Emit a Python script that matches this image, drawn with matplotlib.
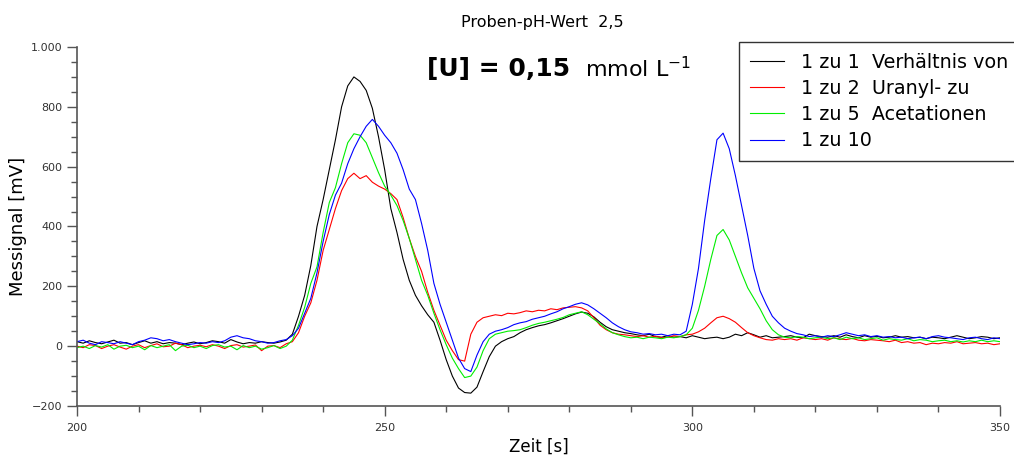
import matplotlib
matplotlib.use('Agg')

import matplotlib.pyplot as plt
from matplotlib.ticker import MultipleLocator, FuncFormatter

# Zeit [s], 1 s Raster
zeit = list(range(200, 351))

# Messsignal [mV] je Verhältnis Uranyl- zu Acetationen
v_1_1 = [
    15, 10, 18, 12, 8, 14, 20, 10, 12, 5, 12, 18, 10, 15, 8, 12, 10, 5, 10, 14,
    8, 12, 18, 15, 10, 22, 14, 8, 12, 10, 15, 12, 10, 14, 20,
    40, 100, 170, 270, 400, 490, 590, 690, 800, 870, 900, 885, 855, 795, 700,
    590, 460, 380, 290, 220, 170, 135, 105, 80, 20, -45, -100, -140, -155, -157,
    -137, -85, -35, 0, 15, 25, 32, 45, 55, 62, 68, 72, 78, 85, 92,
    100, 108, 114, 110, 98, 80, 65, 55, 50, 45, 42, 38, 35, 40, 32,
    30, 35, 30, 32, 28, 35, 30, 25, 28, 30, 25, 30, 40, 35, 45,
    38, 30, 35, 28, 30, 32, 35, 30, 28, 40, 35, 32, 30, 35, 30,
    38, 32, 28, 35, 30, 33, 28, 30, 35, 30, 32, 28, 30, 25, 30,
    28, 25, 30, 35, 30, 25, 28, 32, 30, 25, 28,
]

v_1_2 = [
    0, -5, 5, 2, -8, 0, 5, -3, -10, 0, 5, -5, 2, 8, -2, 0, 10, 5, -5, 0,
    3, -2, 5, 0, -8, 2, 5, -3, 0, 4, -15, 0, 2, -5, 8,
    15, 45, 100, 145, 220, 320, 390, 460, 520, 560, 578, 560, 570, 548, 535,
    525, 510, 490, 430, 360, 300, 250, 180, 120, 70, 20, -15, -45, -50, 40,
    80, 95, 100, 105, 102, 110, 108, 112, 118, 115, 120, 118, 125, 122, 128,
    130, 132, 128, 118, 95, 70, 55, 45, 40, 38, 35, 32, 35, 30, 33,
    28, 30, 35, 32, 38, 40, 48, 60, 78, 95, 100, 92, 80, 62, 45,
    35, 28, 22, 20, 25, 22, 25, 20, 28, 25, 22, 25, 20, 28, 24,
    22, 26, 20, 18, 22, 20, 18, 15, 20, 12, 15, 10, 12, 5, 10,
    8, 12, 10, 15, 8, 10, 12, 8, 10, 5, 8,
]

v_1_5 = [
    -5, 0, -8, 2, -3, 5, -10, 0, 3, -5, 0, -12, 2, -5, 0, 5, -15, 0, 3, -5,
    0, -8, 2, 5, -3, 0, -12, 2, -5, 0, -10, -5, 2, -8, 0,
    20, 70, 130, 210, 265, 380, 480, 530, 610, 680, 710, 705, 680, 630, 580,
    535, 505, 470, 420, 360, 290, 220, 170, 110, 55, 5, -40, -75, -105, -100,
    -70, -15, 25, 40, 45, 50, 52, 55, 62, 70, 76, 80, 85, 90, 96,
    105, 110, 115, 105, 90, 75, 58, 45, 38, 32, 28, 30, 25, 30, 28,
    25, 30, 28, 32, 38, 60, 120, 200, 290, 370, 390, 355, 300, 245, 195,
    160, 125, 85, 55, 38, 30, 28, 32, 30, 25, 28, 30, 25, 28, 22,
    30, 25, 28, 22, 25, 28, 20, 25, 22, 20, 25, 18, 22, 20, 15,
    18, 20, 15, 18, 14, 18, 15, 20, 15, 18, 15,
]

v_1_10 = [
    15, 20, 10, 5, 15, 12, 8, 15, 10, 5, 15, 20, 28, 25, 18, 22, 15, 10, 5, 8,
    12, 10, 15, 12, 18, 30, 35, 28, 25, 18, 15, 10, 12, 18, 22,
    35, 60, 110, 160, 245, 350, 440, 505, 545, 610, 660, 700, 735, 758, 735,
    705, 680, 645, 590, 525, 490, 410, 320, 210, 140, 80, 20, -40, -75, -85,
    -30, 15, 40, 50, 55, 62, 72, 78, 82, 90, 95, 100, 108, 115, 125,
    132, 140, 145, 138, 125, 110, 95, 78, 65, 55, 48, 45, 40, 42, 38,
    40, 35, 40, 38, 50, 140, 260, 420, 560, 690, 712, 660, 570, 470, 370,
    260, 185, 140, 100, 78, 60, 50, 42, 38, 32, 35, 30, 35, 32, 38,
    45, 40, 35, 38, 32, 35, 30, 32, 28, 30, 25, 28, 30, 25, 32,
    35, 30, 28, 25, 22, 28, 30, 25, 22, 28, 25,
]

labels = ["1 zu 1  Verhältnis von", "1 zu 2  Uranyl- zu",
          "1 zu 5  Acetationen", "1 zu 10"]
colors = ["#000000", "#ff0000", "#00ee00", "#0000ff"]

fig = plt.figure(figsize=(10.14, 4.59), dpi=100)
ax = fig.add_axes([77 / 1014, 53 / 459, 923 / 1014, 359 / 459])

for werte, label, farbe in zip([v_1_1, v_1_2, v_1_5, v_1_10], labels, colors):
    ax.plot(zeit, werte, color=farbe, linewidth=0.8, label=label)

ax.set_xlim(200, 350)
ax.set_ylim(-200, 1000)

ax.xaxis.set_major_locator(MultipleLocator(50))
ax.xaxis.set_minor_locator(MultipleLocator(10))
ax.yaxis.set_major_locator(MultipleLocator(200))
ax.yaxis.set_minor_locator(MultipleLocator(50))


def de_format(v, pos):
    s = f"{abs(int(v)):,}".replace(",", ".")
    return ("\u2212" + s) if v < 0 else s


ax.yaxis.set_major_formatter(FuncFormatter(de_format))

for side in ["top", "right"]:
    ax.spines[side].set_visible(False)
for side in ["left", "bottom"]:
    ax.spines[side].set_color("#555555")
    ax.spines[side].set_linewidth(1.2)

ax.tick_params(which="major", length=7, width=1, color="#555555",
               labelsize=8, labelcolor="#333333", direction="out")
ax.tick_params(which="minor", length=4, width=1, color="#555555", direction="out")
ax.tick_params(axis="x", which="major", pad=5)

ax.set_xlabel("Zeit [s]", fontsize=12, labelpad=4)
ax.set_ylabel("Messignal [mV]", fontsize=13)
ax.yaxis.set_label_coords((27 - 77) / 923, 0.5)

fig.text(542 / 1014, 1 - 22 / 459, "Proben-pH-Wert  2,5", fontsize=11.5,
         ha="center", va="center")
fig.text(427 / 1014, 1 - 69 / 459, "[U] = 0,15", fontsize=18, fontweight="bold",
         ha="left", va="center")
fig.text(585 / 1014, 1 - 69 / 459, r"mmol L$^{\mathregular{-1}}$", fontsize=16,
         ha="left", va="center")

leg = ax.legend(loc="upper left", bbox_to_anchor=(739 / 1014, 1 - 42 / 459),
                bbox_transform=fig.transFigure, fontsize=13.8, frameon=True,
                fancybox=False, edgecolor="#333333", framealpha=1,
                handlelength=1.8, handletextpad=0.9, labelspacing=0.38,
                borderpad=0.55, borderaxespad=0)
leg.get_frame().set_linewidth(1.0)

fig.savefig("out.png", dpi=100)
